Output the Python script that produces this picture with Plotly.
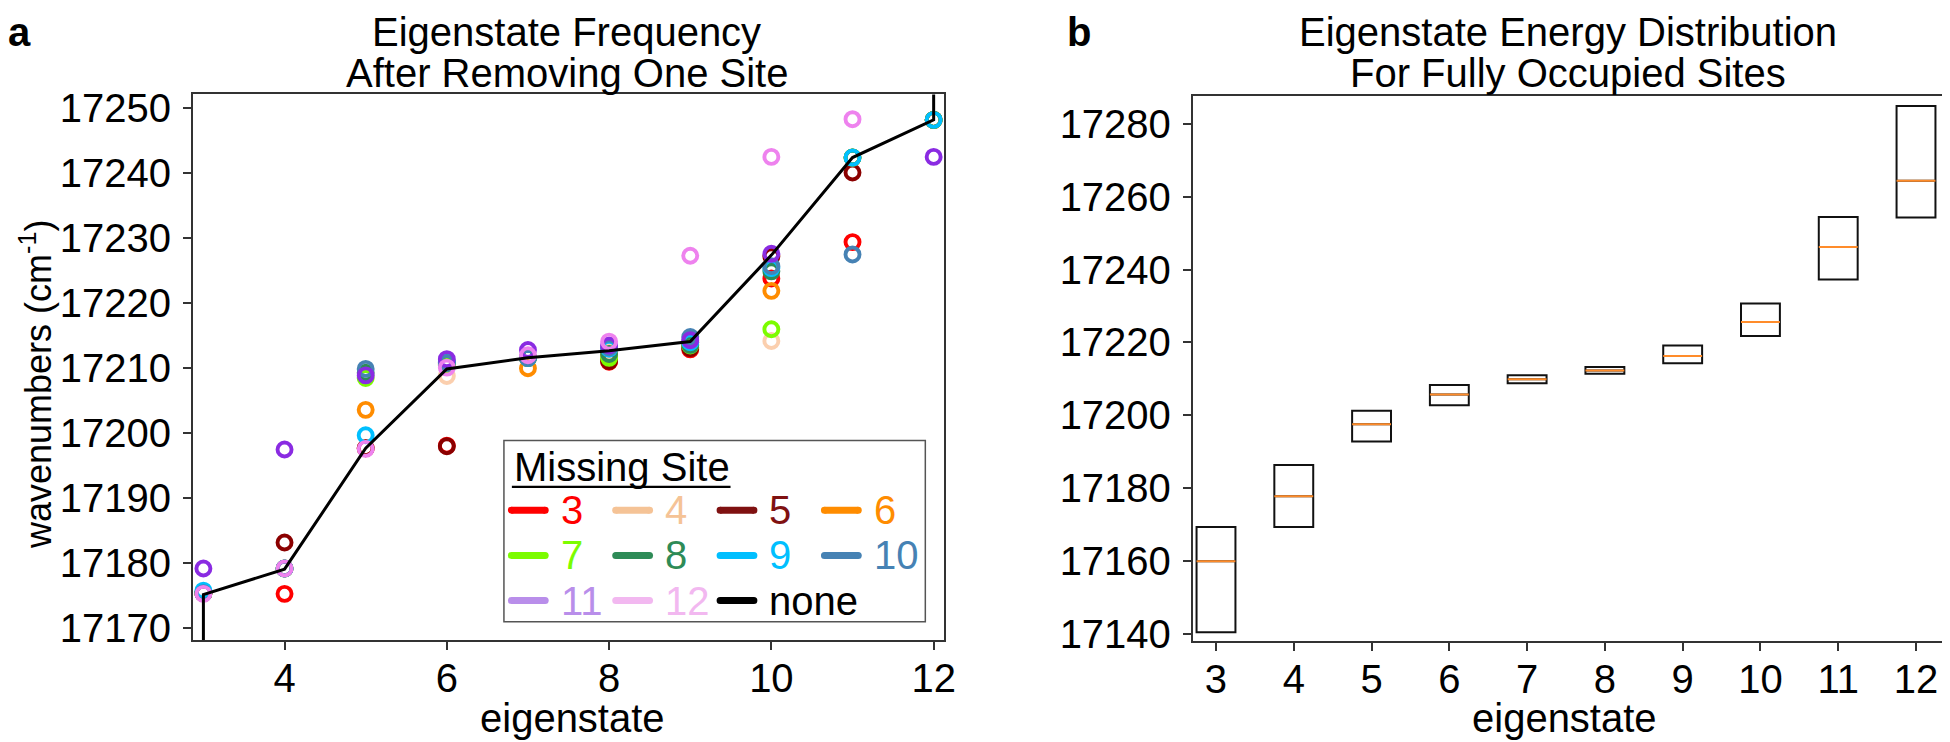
import plotly.graph_objects as go

W, H = 1950, 742
FONT = "Liberation Sans, Arial, sans-serif"
FS = 40

# ---------------- data: panel a ----------------
eigenstates = [3, 4, 5, 6, 7, 8, 9, 10, 11, 12]
site_labels = ["3", "4", "5", "6", "7", "8", "9", "10", "11", "12"]
site3 = [17175.4, 17175.3, 17197.7, 17198.1, 17211.6, 17211.0, 17212.9, 17223.8, 17229.4, 17248.2]
site4 = [17175.4, 17179.2, 17197.7, 17208.8, 17211.6, 17212.5, 17214.0, 17214.2, 17242.4, 17248.2]
site5 = [17175.4, 17183.2, 17197.7, 17198.0, 17211.6, 17211.1, 17213.1, 17227.2, 17240.1, 17248.2]
site6 = [17175.4, 17179.2, 17203.6, 17210.5, 17210.0, 17212.0, 17214.0, 17221.9, 17242.4, 17248.2]
site7 = [17175.4, 17179.2, 17208.5, 17210.5, 17211.6, 17211.6, 17213.5, 17216.0, 17242.4, 17248.2]
site8 = [17175.4, 17179.2, 17209.3, 17210.8, 17211.6, 17212.2, 17213.6, 17224.9, 17242.4, 17248.2]
site9 = [17175.8, 17179.2, 17199.7, 17211.0, 17211.6, 17213.0, 17214.0, 17225.4, 17242.4, 17248.2]
site10 = [17175.4, 17179.2, 17209.9, 17210.8, 17211.6, 17213.2, 17214.8, 17225.7, 17227.5, None]
site11 = [17179.2, 17197.5, 17208.9, 17211.4, 17212.8, 17213.5, 17214.3, 17227.6, None, 17242.5]
site12 = [17175.3, 17179.2, 17197.6, 17210.1, 17212.0, 17214.1, 17227.3, 17242.5, 17248.3, None]
none_x = [3, 3, 4, 5, 6, 7, 8, 9, 10, 11, 12, 12]
none_y = [17160.0, 17175.2, 17179.1, 17197.7, 17209.9, 17211.6, 17212.7, 17214.1, 17227.4, 17242.4, 17248.2, 17264.4]

marker_colors = ["#FF0000", "#FBCFAE", "#8B0000", "#FF8C00", "#7CFC00", "#2E8B57",
                 "#00BFFF", "#4682B4", "#8A2BE2", "#EE82EE"]
legend_colors = ["#FF0000", "#F5C396", "#7F1111", "#FF8C00", "#7CFC00", "#2E8B57",
                 "#00BFFF", "#4682B4", "#B98EEA", "#F2B8F0"]

# ---------------- data: panel b ----------------
box_q1 = [17140.5, 17169.4, 17192.8, 17202.8, 17208.8, 17211.4, 17214.3, 17221.8, 17237.3, 17254.3]
box_median = [17160.0, 17177.8, 17197.6, 17205.7, 17209.9, 17212.3, 17216.3, 17225.6, 17246.2, 17264.4]
box_q3 = [17169.4, 17186.4, 17201.3, 17208.3, 17211.0, 17213.3, 17219.2, 17230.7, 17254.4, 17284.9]

site_series = [site3, site4, site5, site6, site7, site8, site9, site10, site11, site12]

fig = go.Figure()

for lab, ys, col in zip(site_labels, site_series, marker_colors):
    fig.add_trace(go.Scatter(
        x=eigenstates, y=ys, mode="markers", name=lab, showlegend=False,
        marker=dict(symbol="circle-open", size=14, color=col, line=dict(width=3.9, color=col)),
        xaxis="x", yaxis="y"))

fig.add_trace(go.Scatter(x=none_x, y=none_y, mode="lines", name="none", showlegend=False,
                         line=dict(color="black", width=3), xaxis="x", yaxis="y"))

# panel b boxes
fig.add_trace(go.Box(x=eigenstates, q1=box_q1, median=box_median, q3=box_q3,
                     lowerfence=box_q1, upperfence=box_q3, width=0.5,
                     line=dict(color="#111111", width=2), fillcolor="rgba(0,0,0,0)",
                     boxpoints=False, showlegend=False, xaxis="x2", yaxis="y2"))
fig.add_trace(go.Box(x=eigenstates, q1=box_median, median=box_median, q3=box_median,
                     lowerfence=box_median, upperfence=box_median, width=0.5,
                     line=dict(color="#FF8C2A", width=2), fillcolor="rgba(0,0,0,0)",
                     boxpoints=False, showlegend=False, xaxis="x2", yaxis="y2"))


def px(x):
    return x / W


def py(y):
    return 1 - y / H


axis_common = dict(showgrid=False, zeroline=False, showline=True, mirror=True,
                   linecolor="#333333", linewidth=1.6, ticks="outside", ticklen=8,
                   tickwidth=1.5, tickcolor="#333333", tickformat="d",
                   tickfont=dict(family=FONT, size=FS, color="black"))

fig.update_layout(
    width=W, height=H, margin=dict(l=0, r=0, t=0, b=0),
    paper_bgcolor="white", plot_bgcolor="white", boxmode="overlay", showlegend=False,
    xaxis=dict(domain=[px(186), px(942)], range=[2.87, 12.13], tickvals=[4, 6, 8, 10, 12],
               anchor="y", ticklabelstandoff=-6, **axis_common),
    yaxis=dict(domain=[py(644), py(81)], range=[17168.2, 17252.1],
               tickvals=list(range(17170, 17251, 10)), anchor="x", ticklabelstandoff=4,
               **axis_common),
    xaxis2=dict(domain=[px(1192), px(1948)], range=[2.70, 12.36], tickvals=eigenstates,
                anchor="y2", ticklabelstandoff=-6, **axis_common),
    yaxis2=dict(domain=[py(645), py(83)], range=[17138.1, 17287.5],
                tickvals=list(range(17140, 17281, 20)), anchor="x2", ticklabelstandoff=4,
                **axis_common),
)

ann = []


def text(x, y, s, size=FS, color="black", xanchor="center", angle=0, bold=False):
    if bold:
        s = "<b>" + s + "</b>"
    ann.append(dict(x=px(x), y=py(y), xref="paper", yref="paper", text=s, showarrow=False,
                    xanchor=xanchor, yanchor="middle", textangle=angle,
                    font=dict(family=FONT, size=size, color=color)))


# titles
text(562, 17, "Eigenstate Frequency")
text(562, 59, "After Removing One Site")
text(1570, 17, "Eigenstate Energy Distribution")
text(1570, 59, "For Fully Occupied Sites")
text(12, 17, "a", bold=True)
text(1078, 17, "b", bold=True)
text(568, 724, "eigenstate")
text(1566, 724, "eigenstate")
text(28, 380, "wavenumbers (cm<sup>-1</sup>)", size=36, angle=-90)

shapes = []
# legend box
shapes.append(dict(type="rect", xref="paper", yref="paper", x0=px(499), x1=px(923),
                   y0=py(625), y1=py(438), line=dict(color="#555555", width=1.5),
                   fillcolor="white", layer="above"))
text(507, 465, "Missing Site", xanchor="left")
shapes.append(dict(type="line", xref="paper", yref="paper", x0=px(507), x1=px(727),
                   y0=py(486), y1=py(486), line=dict(color="black", width=2.2), layer="above"))

leg_names = site_labels + ["none"]
leg_cols = legend_colors + ["#000000"]
col_line_x0 = [503, 608, 713, 818]
row_y = [510, 556.7, 603.3]
for i, (nm, c) in enumerate(zip(leg_names, leg_cols)):
    r, k = divmod(i, 4)
    x0 = col_line_x0[k]
    x1 = x0 + 41
    yy = row_y[r]
    shapes.append(dict(type="line", xref="paper", yref="paper", x0=px(x0 + 3.5), x1=px(x1 - 3.5),
                       y0=py(yy), y1=py(yy), line=dict(color=c, width=7), layer="above"))
    for xe in (x0 + 3.5, x1 - 3.5):
        shapes.append(dict(type="circle", xref="paper", yref="paper", xsizemode="pixel",
                           ysizemode="pixel", xanchor=px(xe), yanchor=py(yy),
                           x0=-3.5, x1=3.5, y0=-3.5, y1=3.5, fillcolor=c,
                           line=dict(width=0), layer="above"))
    text(x1 + 10, yy, nm, color=c, xanchor="left")

fig.update_layout(annotations=ann, shapes=shapes)
fig.write_html("out.html")
